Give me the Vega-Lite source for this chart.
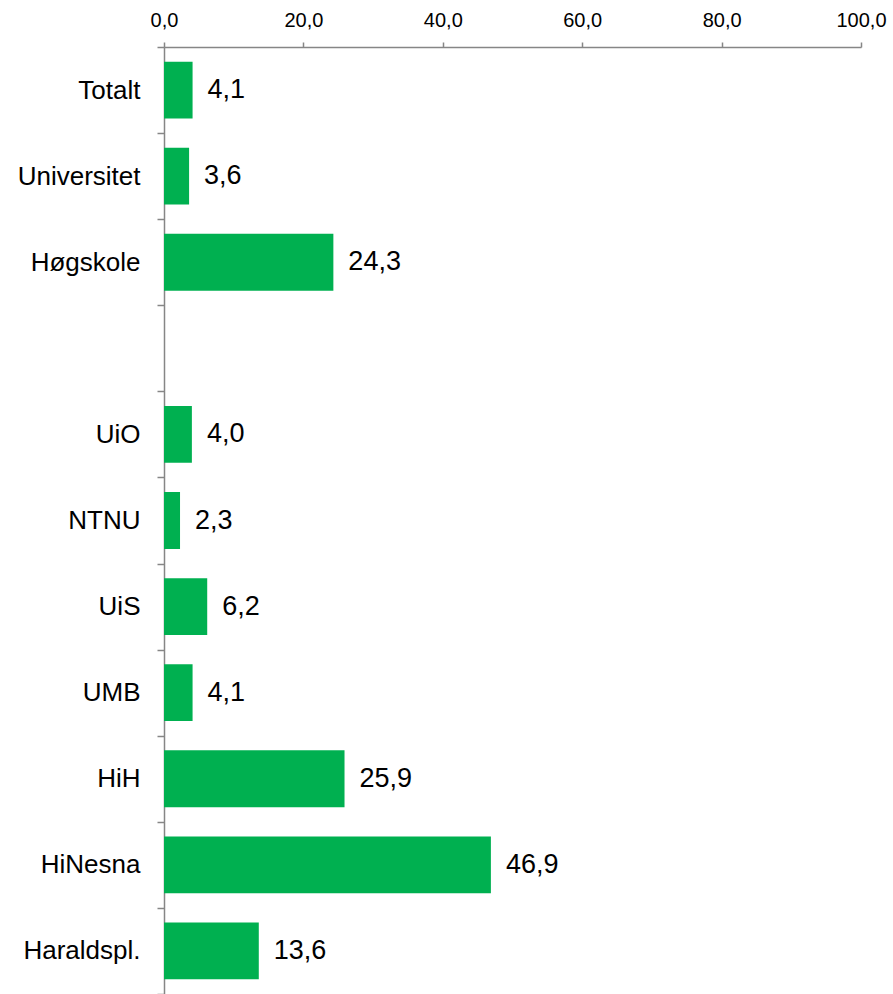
{
  "$schema": "https://vega.github.io/schema/vega-lite/v6.json",
  "width": 697,
  "height": 947,
  "autosize": {"type": "none"},
  "padding": {"left": 164, "top": 47, "right": 32, "bottom": 0},
  "background": "white",
  "config": {
    "view": {"stroke": null},
    "font": "Liberation Sans",
    "locale": {"number": {"decimal": ",", "thousands": " ", "grouping": [3], "currency": ["", " kr"]}}
  },
  "data": {
    "values": [
      {"institusjon": "Totalt", "andel": 4.1},
      {"institusjon": "Universitet", "andel": 3.6},
      {"institusjon": "Høgskole", "andel": 24.3},
      {"institusjon": "UiO", "andel": 4.0},
      {"institusjon": "NTNU", "andel": 2.3},
      {"institusjon": "UiS", "andel": 6.2},
      {"institusjon": "UMB", "andel": 4.1},
      {"institusjon": "HiH", "andel": 25.9},
      {"institusjon": "HiNesna", "andel": 46.9},
      {"institusjon": "Haraldspl.", "andel": 13.6}
    ]
  },
  "encoding": {
    "y": {
      "field": "institusjon",
      "type": "nominal",
      "scale": {
        "domain": ["Totalt", "Universitet", "Høgskole", " ", "UiO", "NTNU", "UiS", "UMB", "HiH", "HiNesna", "Haraldspl."],
        "paddingInner": 0,
        "paddingOuter": 0
      },
      "axis": {
        "title": null,
        "orient": "left",
        "tickBand": "extent",
        "domainColor": "#868686",
        "domainWidth": 1.5,
        "tickColor": "#868686",
        "tickWidth": 1.5,
        "tickSize": 7,
        "labelFontSize": 26,
        "labelColor": "#000000",
        "labelPadding": 17,
        "labelFont": "Liberation Sans"
      }
    },
    "x": {
      "field": "andel",
      "type": "quantitative",
      "scale": {"domain": [0, 100], "nice": false},
      "axis": {
        "title": null,
        "orient": "top",
        "values": [0, 20, 40, 60, 80, 100],
        "format": ".1f",
        "grid": false,
        "domainColor": "#868686",
        "domainWidth": 1.5,
        "tickColor": "#868686",
        "tickWidth": 1.5,
        "tickSize": 5,
        "labelFontSize": 20,
        "labelColor": "#000000",
        "labelPadding": 12,
        "labelFlush": false,
        "labelFont": "Liberation Sans"
      }
    }
  },
  "layer": [
    {"mark": {"type": "bar", "color": "#00B050", "height": {"band": 0.66}}},
    {
      "mark": {"type": "text", "align": "left", "baseline": "middle", "dx": 15, "fontSize": 27, "color": "#000000", "font": "Liberation Sans"},
      "encoding": {"text": {"field": "andel", "type": "quantitative", "format": ".1f"}}
    }
  ]
}
